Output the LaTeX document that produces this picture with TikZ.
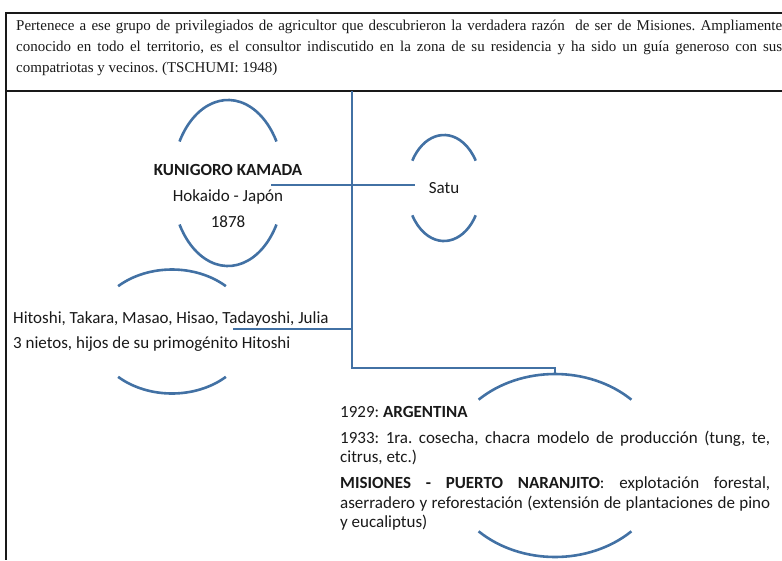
\documentclass[tikz,border=0pt]{standalone}
\usepackage{fontspec}
\setmainfont{Carlito}
\newfontfamily\quotefont{Liberation Serif}
\usetikzlibrary{positioning}
\definecolor{linkblue}{RGB}{66,113,164}
\definecolor{inkgray}{RGB}{25,25,25}

\begin{document}
\begin{tikzpicture}[x=1pt,y=-1pt,
  branch/.style={draw=linkblue,line width=2.5pt},
  rim/.style={draw=linkblue,line width=2.6pt},
  frame/.style={draw=inkgray,line width=1.3pt},
  label/.style={inner sep=0pt,text=inkgray,font=\fontsize{17}{26}\selectfont}]
\useasboundingbox (0,0) rectangle (782,560);
% ---- quotation box ----
\draw[frame] (782,13) -- (6,13) -- (6,560);
\draw[frame] (6,91) -- (782,91);
\node[anchor=north west,inner sep=0pt,text width=766pt,align=justify,text=inkgray,
  font=\quotefont\fontsize{15}{21}\selectfont\frenchspacing] (quote) at (16,20)
  {Pertenece a ese grupo de privilegiados de agricultor que descubrieron la verdadera raz\'on\ \ de ser de Misiones. Ampliamente\linebreak
   conocido en todo el territorio, es el consultor indiscutido en la zona de su residencia y ha sido un gu\'ia generoso con sus\linebreak
   compatriotas y vecinos. (TSCHUMI: 1948)};
% ---- people ----
\node[label,align=center] (kamada) at (228,195.5)
  {\textbf{KUNIGORO KAMADA}\\Hokaido - Jap\'on\\1878};
\node[label] (satu) at (444,188) {Satu};
\node[label,anchor=west,align=left,font=\fontsize{17}{25}\selectfont] (hijos) at (13,331.5)
  {Hitoshi, Takara, Masao, Hisao, Tadayoshi, Julia\\3 nietos, hijos de su primog\'enito Hitoshi};
\node[label,anchor=north west,text width=430pt,align=justify,
  font=\fontsize{17}{19.8}\selectfont\frenchspacing] (argentina) at (340,406)
  {1929: \textbf{ARGENTINA}\par\vspace{6pt}
   1933: 1ra. cosecha, chacra modelo de producci\'on (tung, te,\linebreak citrus, etc.)\par\vspace{5.5pt}
   \textbf{MISIONES - PUERTO NARANJITO}: explotaci\'on forestal,\linebreak
   aserradero y reforestaci\'on (extensi\'on de plantaciones de pino\linebreak y eucaliptus)};
% ---- rims round each name ----
\coordinate (kamadac) at (228,183);
\draw[rim] ([shift={(210:56 and 83)}]kamadac) arc[start angle=210,end angle=330,x radius=56,y radius=83];
\draw[rim] ([shift={(30:56 and 83)}]kamadac) arc[start angle=30,end angle=150,x radius=56,y radius=83];
\coordinate (satuc) at (444,188);
\draw[rim] ([shift={(211:37 and 53)}]satuc) arc[start angle=211,end angle=329,x radius=37,y radius=53];
\draw[rim] ([shift={(31:37 and 53)}]satuc) arc[start angle=31,end angle=149,x radius=37,y radius=53];
\coordinate (hijosc) at (172,331.5);
\draw[rim] ([shift={(227:79 and 62)}]hijosc) arc[start angle=227,end angle=313,x radius=79,y radius=62];
\draw[rim] ([shift={(47:79 and 62)}]hijosc) arc[start angle=47,end angle=133,x radius=79,y radius=62];
\coordinate (argentinac) at (555,465.5);
\draw[rim] ([shift={(226:110 and 91.5)}]argentinac) arc[start angle=226,end angle=314,x radius=110,y radius=91.5];
\draw[rim] ([shift={(46:110 and 91.5)}]argentinac) arc[start angle=46,end angle=134,x radius=110,y radius=91.5];
% ---- links ----
\coordinate (trunktop) at (352,91);
\coordinate (argbend) at (555,368);
\coordinate (argtop) at (555,374);
\coordinate (kamadalink) at (271,185);
\coordinate (satulink) at (415,185);
\coordinate (hijoslink) at (233,329);
\draw[branch] (trunktop) |- (argbend) -- (argtop);
\draw[branch] (kamadalink) -- (satulink);
\draw[branch] (hijoslink) -- (hijoslink -| trunktop);
\end{tikzpicture}
\end{document}
